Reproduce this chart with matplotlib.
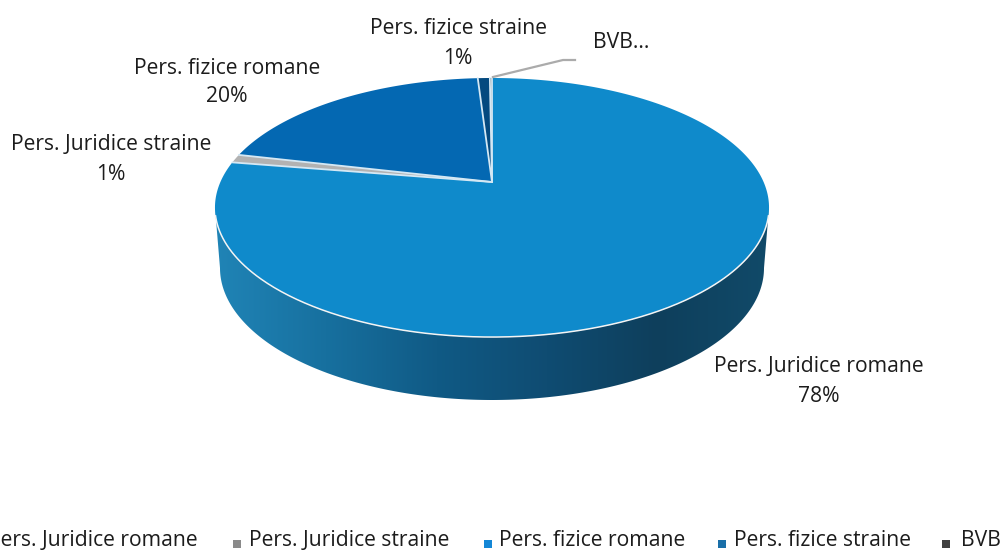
import numpy as np
import matplotlib
matplotlib.use("Agg")
import matplotlib.pyplot as plt
from matplotlib.patches import Polygon

categories = ["Pers. Juridice romane", "Pers. Juridice straine", "Pers. fizice romane", "Pers. fizice straine", "BVB"]
values = [77.6, 1.05, 20.35, 0.85, 0.15]
pct_labels = ["78%", "1%", "20%", "1%", ""]
colors = ["#0F8ACB", "#B2B2B2", "#0468B2", "#04497F", "#3A3A3A"]
legend_colors = ["#0F8ACB", "#8A8A8A", "#1487D6", "#1A6FA8", "#404040"]

FONT = "Open Sans"
TXT = "#1c1c1c"
FS = 15.2

fig = plt.figure(figsize=(10.01, 5.51), dpi=100)
ax = fig.add_axes([0, 0, 1, 1])
ax.set_xlim(0, 1001)
ax.set_ylim(551, 0)
ax.axis("off")

# perspective projection of the unit disc
CX, CY, K, A, B = 492.0, 182.0, 0.197, 124.5, 271.6

def project(frac):
    t = 2 * np.pi * np.asarray(frac)
    u, v = np.sin(t), np.cos(t)
    d = 1 + K * v
    return CX + B * u / d, CY - A * v / d

# side wall with horizontal gradient; it starts where the rim is widest
f0 = np.arccos(-K) / (2 * np.pi)
ts = np.linspace(f0, 1 - f0, 300)
tx, ty = project(ts)
ang = np.linspace(np.pi, 0, 300)
bx = 492 + 272 * np.cos(ang)
by = 268 + 132 * np.sin(ang)
side_pts = np.r_[np.c_[bx, by], np.c_[tx, ty]]
side = Polygon(side_pts, closed=True, fc="none", ec="none")
ax.add_patch(side)
grad_cols = ["#2084B6", "#17709F", "#105A85", "#0F4C72", "#0E3F5C", "#114A69"]
cmap = matplotlib.colors.LinearSegmentedColormap.from_list("side", grad_cols)
im = ax.imshow(np.linspace(0, 1, 256)[None, :], extent=(215, 769, 551, 0), cmap=cmap, aspect="auto", zorder=1)
im.set_clip_path(side)
ax.set_xlim(0, 1001)
ax.set_ylim(551, 0)

# top slices
fracs = np.cumsum([0] + values) / sum(values)
for i, c in enumerate(colors):
    n = max(3, int(400 * (fracs[i + 1] - fracs[i])))
    x, y = project(np.linspace(fracs[i], fracs[i + 1], n))
    pts = np.r_[[[CX, CY]], np.c_[x, y]]
    ax.add_patch(Polygon(pts, closed=True, fc=c, ec="none", zorder=2))
for f in fracs[:-1]:
    x, y = project(f)
    ax.plot([CX, x], [CY, y], color="#D5E8F4", lw=1.3, zorder=3, solid_capstyle="round")

# white rim along the front
fx, fy = project(np.linspace(f0 + 0.01, 1 - f0 - 0.01, 300))
ax.plot(fx, fy, color="#F4F4F4", lw=1.1, zorder=3)

# leader line for BVB
ax.plot([493, 563, 575], [77, 60, 60], color="#ABABAB", lw=1.6, zorder=4)

def t(x, y, s, ha="center"):
    ax.text(x, y, s, ha=ha, va="center", fontsize=FS, family=FONT, color=TXT, zorder=5)

t(458, 29, categories[3]); t(458, 59, pct_labels[3])
t(593, 43, "BVB...", ha="left")
t(227, 68, categories[2]); t(227, 97, pct_labels[2])
t(111, 145, categories[1]); t(111, 174, pct_labels[1])
t(819, 367, categories[0]); t(819, 396, pct_labels[0])

# legend
lx_text = [-12, 249, 499, 734, 961]
lx_mark = [-24, 237, 488, 722, 946]
for xt, xm, name, c in zip(lx_text, lx_mark, categories, legend_colors):
    ax.text(xt, 540.5, name, ha="left", va="center", fontsize=FS, family=FONT, color=TXT, zorder=5)
    ax.scatter([xm], [544], marker="s", s=26, c=c, linewidths=0, zorder=5)

fig.savefig("out.png", dpi=100, facecolor="white")
